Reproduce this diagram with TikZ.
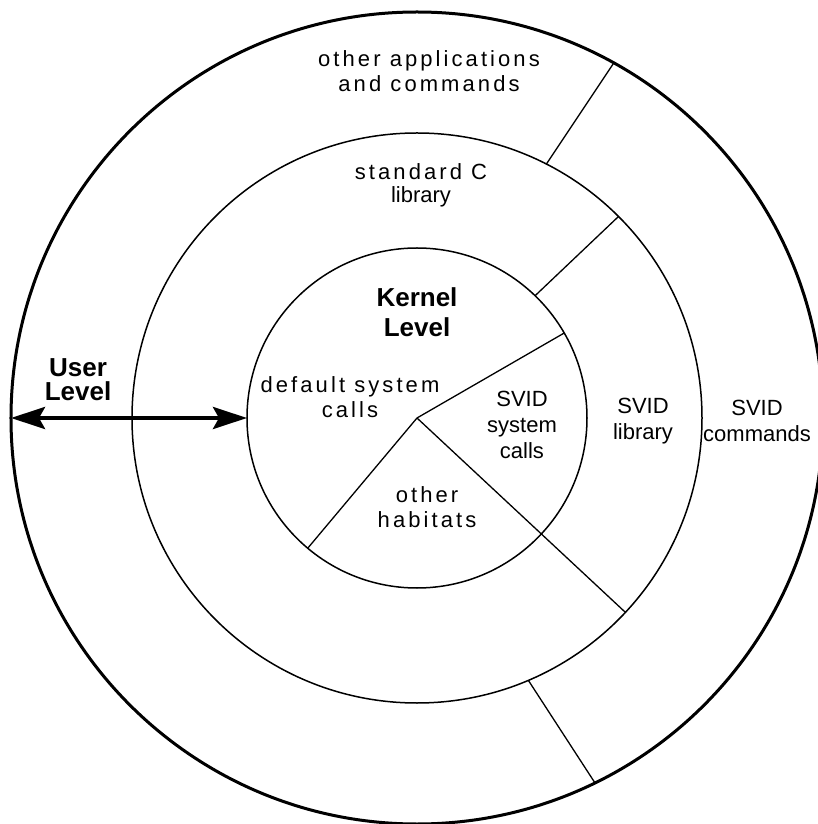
\documentclass[tikz,border=0pt]{standalone}
\usepackage{fontspec}
\setmainfont{Liberation Sans}
\newfontfamily\spacedfont[LetterSpace=14]{Liberation Sans}
\usetikzlibrary{arrows.meta,positioning}

\begin{document}
\begin{tikzpicture}[x=1pt,y=1pt,
    ring/.style={draw,circle,inner sep=0pt,outer sep=0pt,line width=1.5pt},
    divider/.style={line width=1.3pt},
    txt/.style={align=center,font=\fontsize{22}{26}\selectfont},
    spaced/.style={align=center,font=\spacedfont\fontsize{22}{25}\selectfont},
    level/.style={align=center,font=\bfseries\fontsize{26}{30}\selectfont},
    userarrow/.style={{Stealth[length=34pt,width=22pt,inset=6pt]}-{Stealth[length=34pt,width=22pt,inset=6pt]},line width=4pt}
    ]

\useasboundingbox (-417,-406) rectangle (400,418);

\node[ring,minimum size=812pt,line width=3pt] (outer) at (0,0) {};
\node[ring,minimum size=570pt] (middle) at (0,0) {};
\node[ring,minimum size=340pt] (inner) at (0,0) {};

\draw[divider] (inner.center) -- (inner.30);
\draw[divider] (inner.center) -- (inner.230);
\draw[divider] (inner.center) -- (middle.-43);
\draw[divider] (inner.46) -- (middle.45);
\draw[divider] (middle.63) -- (outer.61.5);
\draw[divider] (middle.-67) -- (outer.-64);

\node[spaced] (apps) at (12,347) {other applications\\and commands};
\node[spaced,font=\spacedfont\fontsize{22}{23}\selectfont] (stdc) at (4,233) {standard C\\{\normalfont library}};
\node[level] (kernel) at (0,106) {Kernel\\Level};
\node[level,font=\bfseries\fontsize{26}{24}\selectfont] (user) at (-339,38) {User\\Level};
\node[spaced] (defcalls) at (-67,21) {default system\\calls};
\node[txt] (svidcalls) at (105,-7) {SVID\\system\\calls};
\node[txt] (svidlib) at (226,-3) {SVID\\library};
\node[txt] (svidcmd) at (340,-3) {SVID\\commands};
\node[spaced] (habitats) at (10,-89) {other\\habitats};

\draw[userarrow] (outer.west) -- (inner.west);

\end{tikzpicture}
\end{document}
